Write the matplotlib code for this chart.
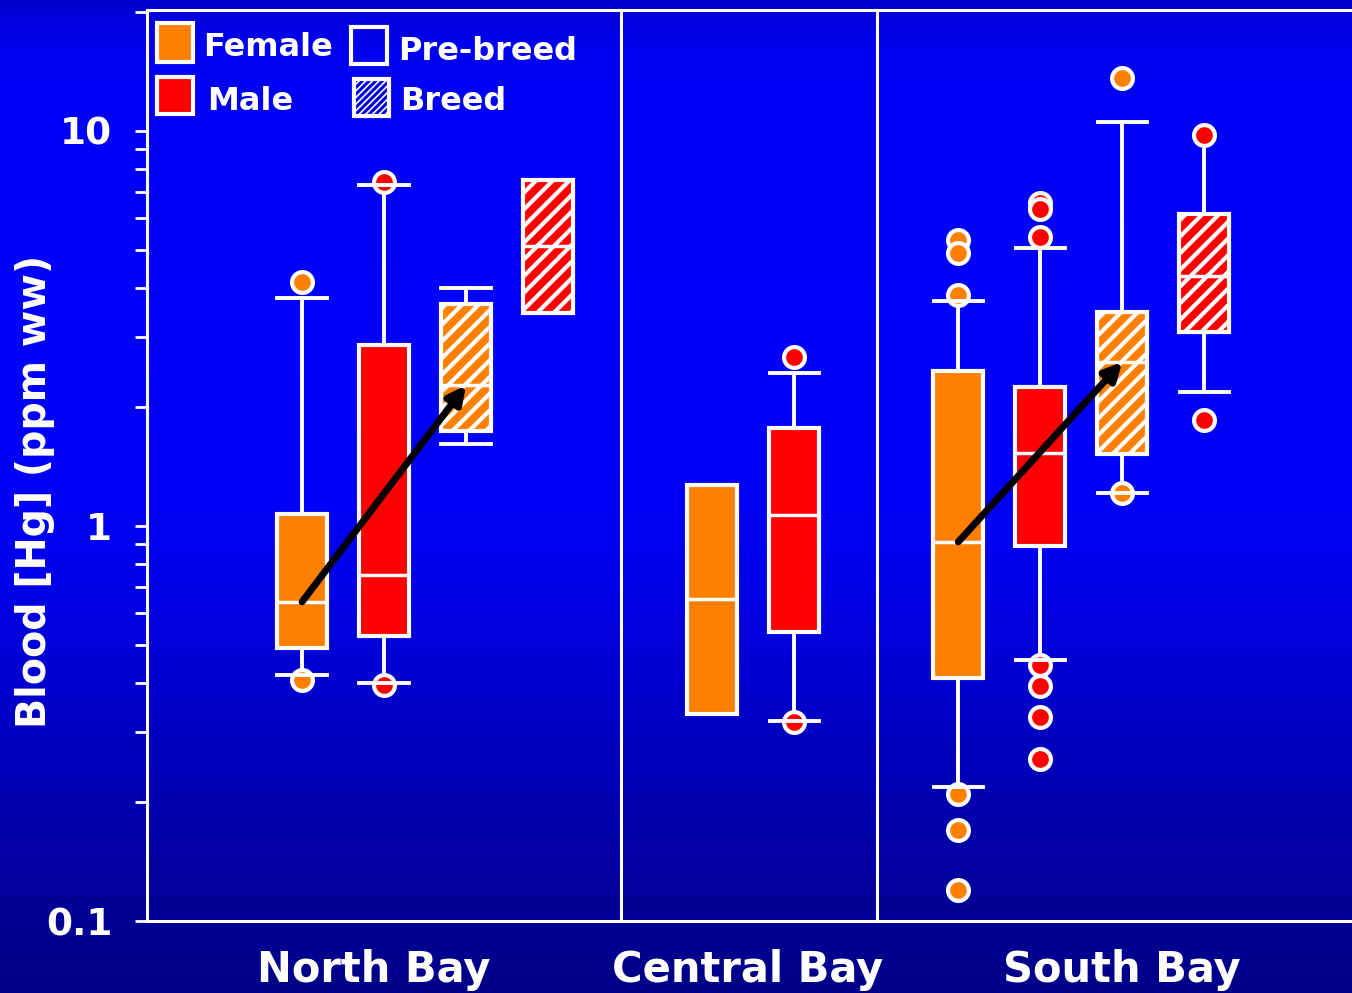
import numpy as np
import matplotlib
matplotlib.use("Agg")
import matplotlib.pyplot as plt
from matplotlib.patches import Rectangle

plt.rcParams['font.family'] = ['DejaVu Sans']
plt.rcParams['font.weight'] = 'bold'
plt.rcParams['hatch.linewidth'] = 3.0

# box statistics, Hg in blood (ppm ww)
box_pos = [1, 2, 3, 4, 6, 7, 9, 10, 11, 12]
box_sex = ["F", "M", "F", "M", "F", "M", "F", "M", "F", "M"]
box_breed = [False, False, True, True, False, False, False, False, True, True]
q1 = [0.491, 0.527, 1.74, 3.46, 0.334, 0.539, 0.412, 0.890, 1.52, 3.10]
med = [0.642, 0.751, 2.27, 5.12, 0.653, 1.066, 0.911, 1.53, 2.60, 4.30]
q3 = [1.07, 2.87, 3.65, 7.52, 1.27, 1.77, 2.47, 2.24, 3.48, 6.16]
whislo = [0.419, 0.401, 1.61, 3.46, 0.334, 0.321, 0.218, 0.458, 1.21, 2.18]
whishi = [3.78, 7.30, 4.00, 7.52, 1.27, 2.43, 3.71, 5.06, 10.5, 8.95]
cap_lo = [True, True, True, False, False, True, True, True, True, True]
cap_hi = [True, True, True, False, False, True, True, True, True, False]
fliers = [[4.15, 0.407], [7.43, 0.396], [], [], [], [2.68, 0.318],
          [5.30, 4.91, 3.84, 0.210, 0.170, 0.120],
          [6.57, 6.35, 5.39, 0.445, 0.394, 0.328, 0.257],
          [13.6, 1.21], [9.77, 1.85]]

# arrows: from pre-breed female box to breeding female box
arrow_from = [0, 6]
arrow_to = [2, 8]

bays = ["North Bay", "Central Bay", "South Bay"]
bay_label_x = [1.87, 6.43, 11.0]
dividers = [4.89, 8.01]

ORANGE = "#ff8000"
RED = "#ff0000"
WHITE = "white"
sex_color = {"F": ORANGE, "M": RED}

W, H = 1352, 993
fig = plt.figure(figsize=(W / 100, H / 100), dpi=100)

# gradient background
bg = fig.add_axes([0, 0, 1, 1], zorder=-10)
yy = np.linspace(0, 1, 500)
blue = np.interp(yy, [0, 0.012, 0.05, 0.3, 0.55, 0.87, 1.0],
                 [0.80, 0.85, 0.95, 1.0, 0.95, 0.63, 0.53])
img = np.zeros((500, 2, 3))
img[:, :, 2] = blue[:, None]
bg.imshow(img, aspect="auto", extent=[0, 1, 0, 1], origin="upper")
bg.set_axis_off()

ax = fig.add_axes([147 / W, 72 / H, (W - 147) / W, (921 - 10) / H])
ax.set_facecolor("none")
ax.set_yscale("log")
ax.set_ylim(0.1, 20.2)
ax.set_xlim(-0.89, 13.8)

stats = []
for i in range(len(box_pos)):
    stats.append(dict(med=med[i], q1=q1[i], q3=q3[i],
                      whislo=whislo[i], whishi=whishi[i], fliers=[]))

bp = ax.bxp(stats, positions=box_pos, widths=0.61, capwidths=0.6,
            patch_artist=True, showfliers=False,
            boxprops=dict(edgecolor=WHITE, linewidth=3),
            medianprops=dict(color=WHITE, linewidth=2.5),
            whiskerprops=dict(color=WHITE, linewidth=2.8),
            capprops=dict(color=WHITE, linewidth=2.8))

for i, box in enumerate(bp['boxes']):
    box.set_facecolor(sex_color[box_sex[i]])
    box.set_zorder(3)
    if box_breed[i]:
        box.set_hatch("//")
    bp['medians'][i].set_zorder(4)
    bp['caps'][2 * i].set_visible(cap_lo[i])
    bp['caps'][2 * i + 1].set_visible(cap_hi[i])
    bp['caps'][2 * i].set_zorder(6)
    bp['caps'][2 * i + 1].set_zorder(6)
    if fliers[i]:
        ax.plot([box_pos[i]] * len(fliers[i]), fliers[i], "o", ms=15,
                mfc=sex_color[box_sex[i]], mec=WHITE, mew=3, zorder=5)

for a, b in zip(arrow_from, arrow_to):
    ax.annotate("", xy=(box_pos[b], med[b]), xytext=(box_pos[a], med[a]),
                arrowprops=dict(arrowstyle="-|>", color="black", lw=5,
                                mutation_scale=26, shrinkA=0, shrinkB=0),
                zorder=8)

for d in dividers:
    ax.axvline(d, color=WHITE, lw=2.2, zorder=2)

for side in ["left", "bottom", "top"]:
    ax.spines[side].set_color(WHITE)
    ax.spines[side].set_linewidth(2.2)
ax.spines["right"].set_visible(False)

ax.set_yticks([0.1, 1, 10])
ax.set_yticklabels(["0.1", "1", "10"])
ax.tick_params(axis="y", which="both", colors=WHITE, length=9, width=2, direction="out")
ax.tick_params(axis="y", which="major", labelsize=27, pad=16)
ax.yaxis.set_minor_formatter(matplotlib.ticker.NullFormatter())

ax.set_xticks(bay_label_x)
ax.set_xticklabels(bays)
ax.tick_params(axis="x", length=0, labelsize=30, colors=WHITE, pad=20)

fig.text(35 / W, 1 - 491 / H, "Blood [Hg] (ppm ww)", rotation=90, color=WHITE,
         fontsize=28.5, fontweight="bold", ha="center", va="center")

# legend drawn by hand
def px_rect(x0, y0, x1, y1, **kw):
    r = Rectangle((x0 / W, 1 - y1 / H), (x1 - x0) / W, (y1 - y0) / H,
                  transform=fig.transFigure, **kw)
    fig.add_artist(r)

px_rect(157, 23, 193, 62, facecolor=ORANGE, edgecolor=WHITE, lw=3)
px_rect(157, 77, 193, 114, facecolor=RED, edgecolor=WHITE, lw=3)
px_rect(351, 27, 387, 64, facecolor="none", edgecolor=WHITE, lw=3)
plt.rcParams['hatch.linewidth'] = 1.2
px_rect(354, 79, 389, 116, facecolor="#0000e0", edgecolor=WHITE, lw=3, hatch="/////")

legend_text = [("Female", 203, 47), ("Male", 207, 101), ("Pre-breed", 398, 51), ("Breed", 400, 101)]
for s, x, y in legend_text:
    fig.text(x / W, 1 - y / H, s, color=WHITE, fontsize=23, fontweight="bold",
             ha="left", va="center")

plt.savefig("out.png", dpi=100)
